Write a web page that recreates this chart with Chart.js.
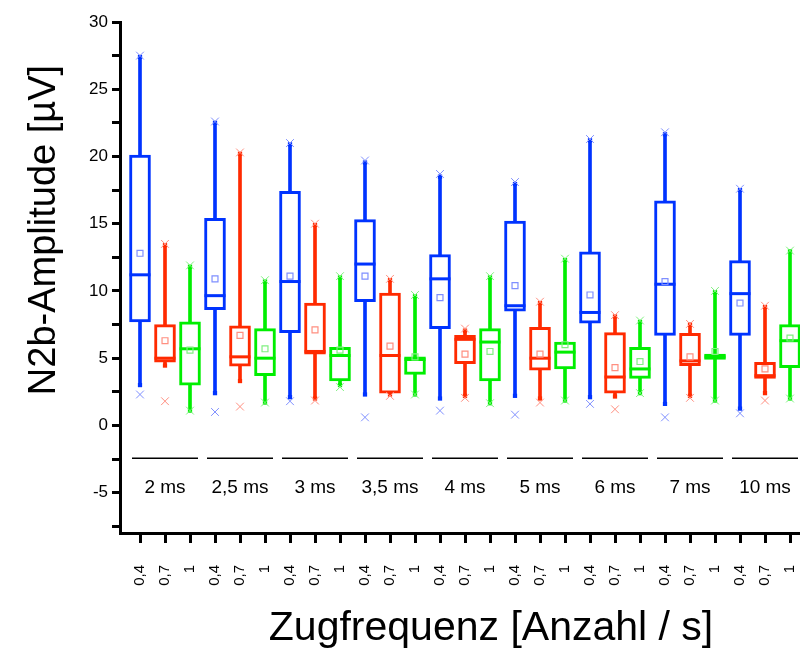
<!DOCTYPE html>
<html>
<head>
<meta charset="utf-8">
<script src="https://cdn.jsdelivr.net/npm/chart.js@4"></script>
<style>
  html, body { margin: 0; padding: 0; background: #fff; }
  #wrap { width: 800px; height: 648px; }
</style>
</head>
<body>
<div id="wrap"><canvas id="chart" width="800" height="648"></canvas></div>
<script>
// pulse duration groups, train frequency per box (0,4 / 0,7 / 1 per group)
let groups = ["2 ms", "2,5 ms", "3 ms", "3,5 ms", "4 ms", "5 ms", "6 ms", "7 ms", "10 ms"];
let freqLabels = ["0,4", "0,7", "1"];
let yTicks = [-7.5, -5, -2.5, 0, 2.5, 5, 7.5, 10, 12.5, 15, 17.5, 20, 22.5, 25, 27.5, 30];

// box plot statistics, one triple per group
let maxVals = [27.5, 13.5, 11.9,  22.6, 20.3, 10.8,  21.0, 15.0, 11.1,  19.7, 10.9, 9.7,  18.7, 7.2, 11.1,
               18.1, 9.2, 12.4,  21.3, 8.2, 7.8,  21.8, 7.55, 10.0,  17.6, 8.9, 13.0];
let whiskerHigh = [27.4, 13.4, 11.8,  22.5, 20.2, 10.7,  20.9, 14.9, 11.0,  19.55, 10.8, 9.6,  18.5, 7.05, 11.0,
                   17.95, 9.1, 12.3,  21.2, 8.1, 7.7,  21.65, 7.5, 9.9,  17.5, 8.8, 12.95];
let q3 = [20.1, 7.5, 7.7,  15.4, 7.4, 7.2,  17.4, 9.1, 5.8,  15.3, 9.85, 5.1,  12.7, 6.7, 7.2,
          15.2, 7.3, 6.2,  12.9, 6.9, 5.8,  16.7, 6.85, 5.3,  12.25, 4.7, 7.5];
let medians = [11.2, 5.0, 5.7,  9.65, 5.1, 5.0,  10.7, 5.5, 5.2,  12.0, 5.2, 4.9,  10.9, 6.4, 6.2,
               8.9, 5.0, 5.45,  8.4, 3.6, 4.2,  10.5, 4.8, 5.1,  9.8, 3.7, 6.3];
let means = [12.8, 6.3, 5.6,  10.9, 6.7, 5.7,  11.1, 7.1, 5.6,  11.1, 5.9, 5.1,  9.5, 5.3, 5.5,
             10.4, 5.3, 6.0,  9.7, 4.3, 4.75,  10.7, 5.1, 5.5,  9.1, 4.2, 6.5];
let q1 = [7.7, 4.7, 3.0,  8.6, 4.4, 3.7,  6.9, 5.3, 3.3,  9.2, 2.4, 3.8,  7.2, 4.6, 3.3,
          8.5, 4.1, 4.2,  7.6, 2.4, 3.5,  6.7, 4.45, 4.9,  6.7, 3.5, 4.3];
let whiskerLow = [3.0, 4.45, 1.1,  2.4, 3.3, 1.7,  2.1, 2.0, 3.0,  2.3, 2.3, 2.3,  2.0, 2.2, 1.65,
                  2.2, 2.0, 1.85,  2.1, 2.15, 2.4,  1.6, 2.2, 1.85,  1.25, 2.4, 2.0];
let minVals = [2.3, 1.8, 1.1,  1.0, 1.4, 1.7,  1.8, 1.85, 2.85,  0.6, 2.2, 2.3,  1.1, 2.05, 1.65,
               0.8, 1.7, 1.85,  1.6, 1.2, 2.4,  0.6, 2.05, 1.85,  0.9, 1.85, 2.0];

let seriesColors = ["#0033ff", "#ff2a00", "#00ee00"];
let paleColors = ["#7f8fff", "#ff8f80", "#80f080"];

let xs = maxVals.map((v, i) => i + 1);
let colorAt = i => seriesColors[i % 3];
let paleAt = i => paleColors[i % 3];

function points(values) {
  return values.map((v, i) => ({ x: xs[i], y: v }));
}

Chart.defaults.font.family = "'Liberation Sans', Arial, sans-serif";
Chart.defaults.color = "#000";

// group separators, group names and axis titles
let decorPlugin = {
  id: "decor",
  afterDraw(chart) {
    let ctx = chart.ctx;
    let x = chart.scales.x;
    let y = chart.scales.y;
    ctx.save();
    ctx.strokeStyle = "#000";
    ctx.lineWidth = 1.5;
    ctx.fillStyle = "#000";
    ctx.font = "19px 'Liberation Sans', Arial, sans-serif";
    ctx.textAlign = "center";
    ctx.textBaseline = "middle";
    let lineY = y.getPixelForValue(-2.45);
    let labelY = y.getPixelForValue(-4.6);
    groups.forEach((g, k) => {
      let first = xs[k * 3];
      let last = xs[k * 3 + 2];
      ctx.beginPath();
      ctx.moveTo(x.getPixelForValue(first - 0.32), lineY);
      ctx.lineTo(x.getPixelForValue(last + 0.32), lineY);
      ctx.stroke();
      ctx.fillText(g, x.getPixelForValue(xs[k * 3 + 1]), labelY);
    });

    ctx.font = "41px 'Liberation Sans', Arial, sans-serif";
    ctx.textBaseline = "alphabetic";
    ctx.fillText("Zugfrequenz [Anzahl / s]", 491, 640);

    ctx.translate(45, 230);
    ctx.rotate(-Math.PI / 2);
    ctx.font = "38px 'Liberation Sans', Arial, sans-serif";
    ctx.textBaseline = "middle";
    ctx.fillText("N2b-Amplitude [µV]", 0, 0);
    ctx.restore();
  }
};

new Chart(document.getElementById("chart"), {
  type: "bar",
  data: {
    datasets: [
      {
        type: "line", label: "mean", order: 0, showLine: false,
        data: points(means),
        pointStyle: "rect", pointRadius: 4.2, pointBorderWidth: 1.2,
        pointBorderColor: xs.map((x, i) => paleAt(i)),
        pointBackgroundColor: "rgba(0,0,0,0)"
      },
      {
        type: "line", label: "median", order: 1, showLine: false,
        data: points(medians),
        pointStyle: "line", pointRadius: 10.5, pointBorderWidth: 3,
        pointBorderColor: xs.map((x, i) => colorAt(i))
      },
      {
        type: "line", label: "max", order: 2, showLine: false,
        data: points(maxVals),
        pointStyle: "crossRot", pointRadius: 5.5, pointBorderWidth: 1,
        pointBorderColor: xs.map((x, i) => paleAt(i))
      },
      {
        type: "line", label: "min", order: 2, showLine: false,
        data: points(minVals),
        pointStyle: "crossRot", pointRadius: 5.5, pointBorderWidth: 1,
        pointBorderColor: xs.map((x, i) => paleAt(i))
      },
      {
        type: "line", label: "whisker ends", order: 3, showLine: false,
        data: points(whiskerHigh).concat(points(whiskerLow)),
        pointStyle: "rect", pointRadius: 3, pointBorderWidth: 0,
        pointBackgroundColor: xs.concat(xs).map((x, i) => colorAt(i % 27))
      },
      {
        label: "box", order: 4, grouped: false,
        data: xs.map((x, i) => ({ x: x, y: [q1[i], q3[i]] })),
        backgroundColor: "#fff",
        borderColor: xs.map((x, i) => colorAt(i)),
        borderWidth: 3, borderSkipped: false, barThickness: 21
      },
      {
        label: "whisker", order: 5, grouped: false,
        data: xs.map((x, i) => ({ x: x, y: [whiskerLow[i], whiskerHigh[i]] })),
        backgroundColor: xs.map((x, i) => colorAt(i)),
        borderWidth: 0, barThickness: 3
      }
    ]
  },
  options: {
    responsive: false,
    animation: false,
    layout: { autoPadding: false, padding: { top: 22, left: 0, right: 0, bottom: 0 } },
    plugins: { legend: { display: false }, tooltip: { enabled: false } },
    scales: {
      x: {
        type: "linear", min: 0.2, max: 27.4, offset: false,
        border: { display: true, color: "#000", width: 3 },
        grid: { display: true, drawOnChartArea: false, drawTicks: true, tickLength: 10, tickWidth: 3, tickColor: "#000", offset: false },
        afterBuildTicks: scale => { scale.ticks = xs.map(v => ({ value: v })); },
        afterFit: scale => {
          scale.height = 115;
          scale.paddingLeft = 0;
          scale.paddingRight = 0;
        },
        ticks: {
          autoSkip: false, minRotation: 90, maxRotation: 90, padding: 22,
          font: { size: 15 },
          callback: v => freqLabels[(v - 1) % 3]
        }
      },
      y: {
        type: "linear", min: -8, max: 30,
        border: { display: true, color: "#000", width: 3 },
        grid: { display: true, drawOnChartArea: false, drawTicks: true, tickLength: 8, tickWidth: 3, tickColor: "#000" },
        afterBuildTicks: scale => { scale.ticks = yTicks.map(v => ({ value: v })); },
        afterFit: scale => {
          scale.width = 120;
          scale.paddingTop = 0;
          scale.paddingBottom = 0;
        },
        ticks: {
          padding: 4,
          font: { size: 17 },
          callback: v => (v % 5 === 0 ? String(v) : "")
        }
      }
    }
  },
  plugins: [decorPlugin]
});
</script>
</body>
</html>
